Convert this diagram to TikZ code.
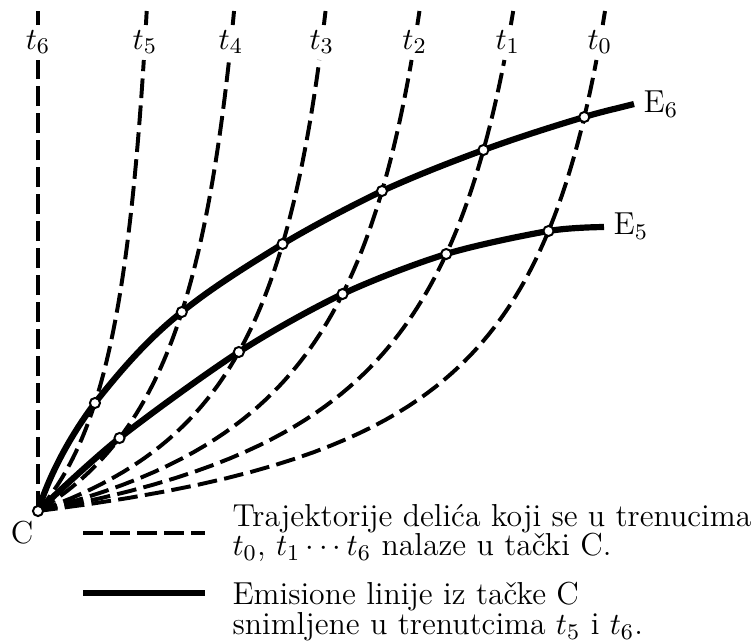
\documentclass[tikz,border=0pt]{standalone}
\usepackage{fontspec}
\usepackage{amsmath}
\usepackage{tikz}
\usetikzlibrary{positioning}
\setlength{\lineskiplimit}{-20pt}

\begin{document}
\begin{tikzpicture}[
    x=0.0125cm, y=-0.0125cm,
    font=\fontsize{11.3}{13}\selectfont,
    declare function={tx(\pa,\pl,\py)=38+\pa*(\py/(\py+\pl));},
    traj/.style={line width=1.4pt, dash pattern=on 7pt off 2.6pt},
    trajtop/.style={line width=1.4pt},
    emis/.style={line width=2.2pt},
    pt/.style={circle, draw, fill=white, line width=0.7pt, inner sep=0pt, minimum size=3.6pt},
    tlbl/.style={inner sep=1pt},
    legtxt/.style={anchor=west, inner sep=0pt, align=left, font=\fontsize{11.3}{10.6}\selectfont},
]
\useasboundingbox (0,0) rectangle (756,642);

\coordinate (C) at (38,511);

% trajectories t0..t5, with their crossings (a: E6, b: E5)
\foreach \k/\pa/\pl/\ya/\yb in {0/660/82/394/280, 1/575/105/361/257, 2/473/120/320/217,
                                 3/360/126/267/159, 4/258/158/199/73, 5/145/167/108/30} {
    \draw[traj] plot[domain=0:451, samples=70, variable=\Y] ({tx(\pa,\pl,\Y)}, {511-\Y});
    \draw[trajtop] plot[domain=486:500, samples=3, variable=\Y] ({tx(\pa,\pl,\Y)}, {511-\Y});
    \node[tlbl] (t\k) at ({tx(\pa,\pl,469)}, 42) {$t_{\k}$};
    \coordinate (a\k) at ({tx(\pa,\pl,\ya)}, {511-\ya});
    \coordinate (b\k) at ({tx(\pa,\pl,\yb)}, {511-\yb});
}
\draw[traj] (C) -- (38,60);
\draw[trajtop] (38,25) -- (38,11);
\node[tlbl] (t6) at (38,42) {$t_6$};

% emission lines
\draw[emis] (C) .. controls +(12,-38) and +(-24,32) .. (a5)
    .. controls +(26,-33) and +(-33,26) .. (a4)
    .. controls +(31,-25) and +(-34,21) .. (a3)
    .. controls +(32,-19) and +(-33,16) .. (a2)
    .. controls +(33,-15) and +(-34,12.5) .. (a1)
    .. controls +(33,-12) and +(-33.5,10) .. (a0)
    .. controls +(16,-5) and +(-16.5,4.3) .. (634,104);
\draw[emis] plot[smooth] coordinates {(C) (b4) (b3) (b2) (b1) (b0) (604,227)};

\foreach \p in {C,a0,a1,a2,a3,a4,a5,b0,b1,b2,b3,b4}
    \node[pt] at (\p) {};

% labels
\node (E6) at (661,104) {E$_6$};
\node (E5) at (631,226) {E$_5$};
\node (Clbl) at (22,533) {C};

% legend
\draw[traj] (83,533) -- (205,533);
\draw[line width=2.4pt] (83,593) -- (205,593);
\node[legtxt] (leg1) at (232,532.9) {Trajektorije delića koji se u trenucima\\$t_0$, $t_1\cdots t_6$ nalaze u tački C.};
\node[legtxt] (leg2) at (232,611.9) {Emisione linije iz tačke C\\snimljene u trenutcima $t_5$ i $t_6$.};

\end{tikzpicture}
\end{document}
